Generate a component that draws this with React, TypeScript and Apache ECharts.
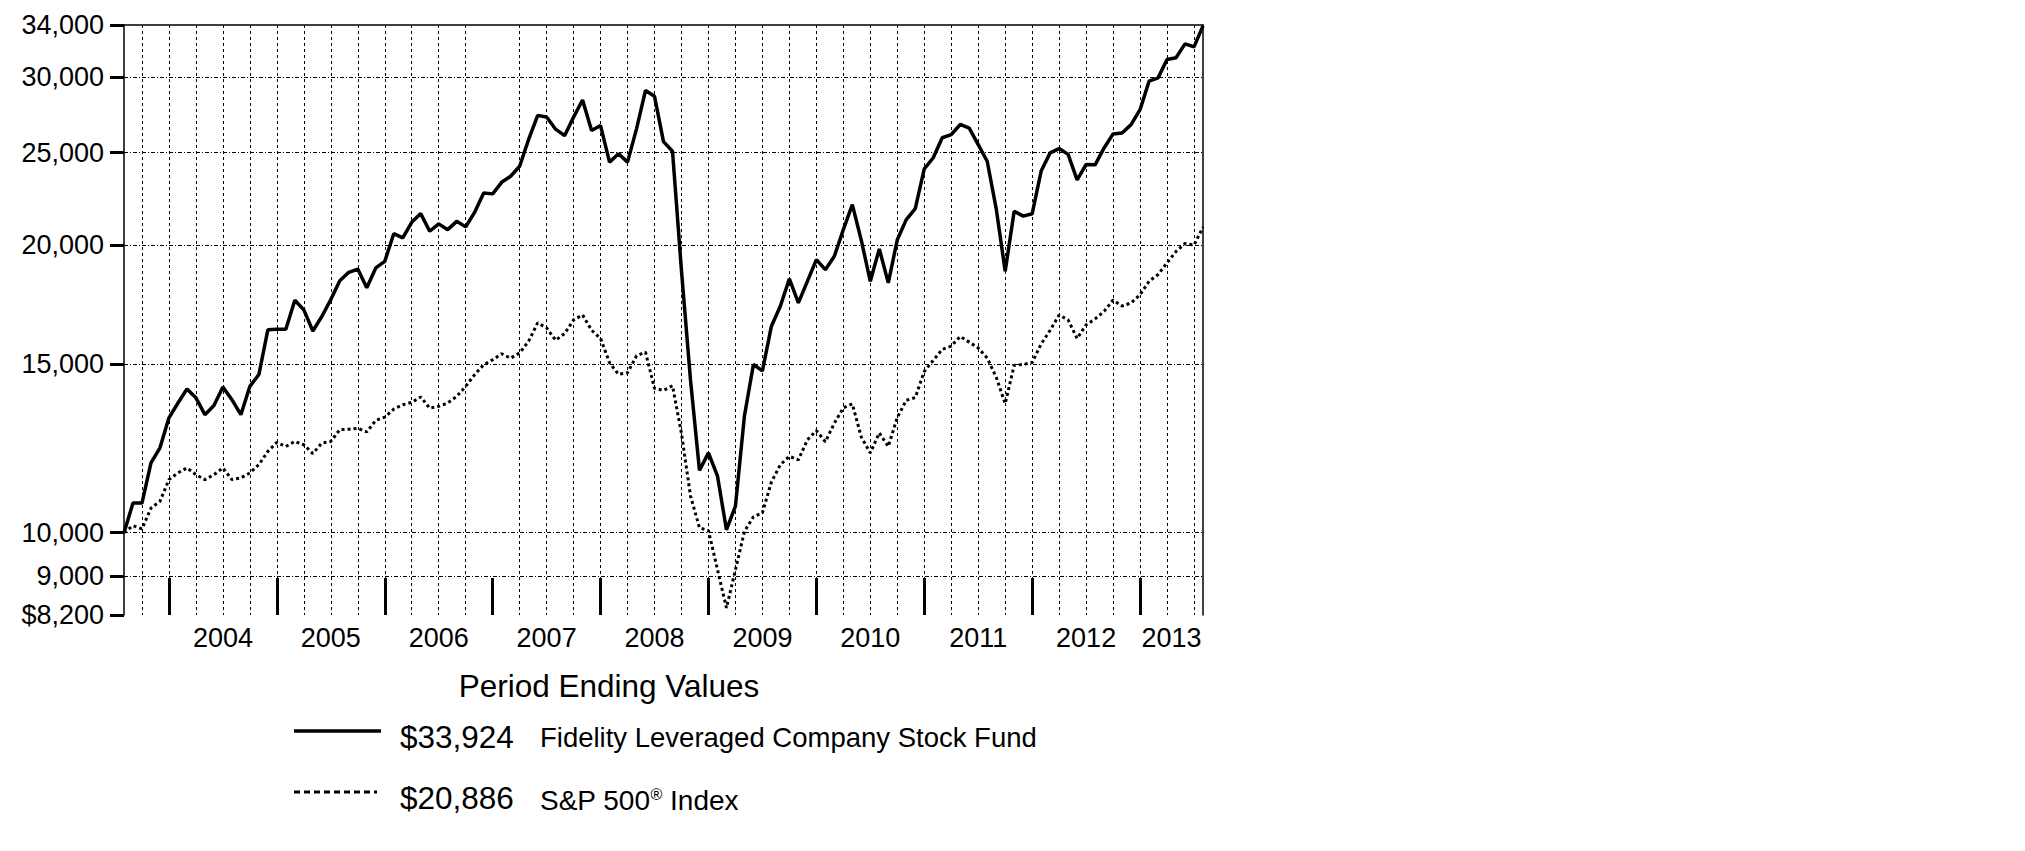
import React, { useEffect, useRef } from 'react';
import * as echarts from 'echarts';

const FONT = '"Liberation Sans", Arial, Helvetica, sans-serif';

// Monthly period ends, Jul 2003 .. Jul 2013
const MONTH_NAMES = ['Jan', 'Feb', 'Mar', 'Apr', 'May', 'Jun', 'Jul', 'Aug', 'Sep', 'Oct', 'Nov', 'Dec'];
const START_YEAR = 2003;
const START_MONTH = 6; // July
const MONTH_COUNT = 121;
const monthLabels: string[] = Array.from({ length: MONTH_COUNT }, (_, i) => {
  const m = (START_MONTH + i) % 12;
  const y = START_YEAR + Math.floor((START_MONTH + i) / 12);
  return `${MONTH_NAMES[m]} ${y}`;
});

const fundName = 'Fidelity Leveraged Company Stock Fund';
const indexName = 'S&P 500® Index';

const fundValues = [
  10000, 10740, 10740, 11830, 12270, 13190, 13670, 14140, 13840, 13290,
  13590, 14210, 13780, 13290, 14230, 14640, 16310, 16330, 16330, 17510,
  17110, 16260, 16840, 17540, 18350, 18730, 18880, 18050, 18930, 19230,
  20560, 20350, 21130, 21580, 20680, 21050, 20760, 21180, 20900, 21650,
  22680, 22630, 23270, 23610, 24190, 25800, 27330, 27240, 26450, 26040,
  27230, 28380, 26360, 26680, 24430, 24930, 24430, 26470, 29040, 28630,
  25670, 25080, 18800, 14460, 11620, 12120, 11470, 10070, 10660, 13250,
  15000, 14770, 16450, 17270, 18440, 17400, 18330, 19310, 18850, 19470,
  20760, 22050, 20230, 18330, 19820, 18260, 20260, 21270, 21840, 24040,
  24690, 25910, 26100, 26750, 26520, 25480, 24480, 21840, 18780, 21700,
  21450, 21570, 23910, 24980, 25240, 24890, 23410, 24290, 24270, 25280,
  26150, 26210, 26740, 27720, 29690, 29930, 31290, 31420, 32490, 32250,
  33924,
];

const indexValues = [
  10000, 10170, 10090, 10610, 10785, 11365, 11550, 11690, 11500, 11365,
  11500, 11690, 11365, 11410, 11550, 11780, 12165, 12430, 12310, 12460,
  12360, 12100, 12410, 12460, 12820, 12830, 12860, 12750, 13110, 13210,
  13470, 13610, 13690, 13870, 13500, 13560, 13670, 13890, 14230, 14640,
  14990, 15170, 15390, 15230, 15420, 15860, 16580, 16380, 15900, 16160,
  16700, 16900, 16290, 15970, 15060, 14650, 14700, 15320, 15450, 14160,
  14090, 14250, 12700, 10930, 10120, 10050, 9150, 8340, 9140, 10030,
  10390, 10490, 11300, 11780, 12020, 11920, 12510, 12790, 12450, 13020,
  13510, 13640, 12590, 12120, 12720, 12310, 13200, 13760, 13850, 14750,
  15150, 15560, 15680, 16050, 15830, 15610, 15230, 14550, 13650, 14970,
  15000, 15070, 15760, 16290, 16900, 16700, 15970, 16500, 16740, 17050,
  17520, 17270, 17400, 17750, 18330, 18630, 19160, 19700, 20080, 20000,
  20886,
];

const yTickValues = [8200, 9000, 10000, 15000, 20000, 25000, 30000, 34000];
const yearLabels = ['2004', '2005', '2006', '2007', '2008', '2009', '2010', '2011', '2012', '2013'];

// year boundaries: December period ends
const yearBoundaryIdx: number[] = monthLabels
  .map((m, i) => (m.startsWith('Dec') ? i : -1))
  .filter((i) => i >= 0);
// label positions: middle of each calendar year span
const yearLabelPos: number[] = yearLabels.map((_, k) => {
  const a = yearBoundaryIdx[k];
  const b = k + 1 < yearBoundaryIdx.length ? yearBoundaryIdx[k + 1] : MONTH_COUNT - 1;
  return (a + b) / 2;
});

const fmtMoney = (v: number) => '$' + Math.round(v).toLocaleString('en-US');

export default function App() {
  const ref = useRef<HTMLDivElement>(null);

  useEffect(() => {
    if (!ref.current) return;
    const chart = echarts.init(ref.current, null, { renderer: 'svg' });

    const option: any = {
      animation: false,
      backgroundColor: '#ffffff',
      textStyle: { fontFamily: FONT },
      grid: { left: 124, top: 25, width: 1079, height: 590, containLabel: false },
      xAxis: [
        {
          type: 'category',
          data: monthLabels,
          boundaryGap: false,
          position: 'top',
          axisLine: { show: true, onZero: false, lineStyle: { color: '#000', width: 1.5 } },
          axisTick: { show: false },
          axisLabel: { show: false },
          splitLine: {
            show: true,
            interval: (i: number) => i % 3 === 2 && i !== 41,
            lineStyle: { color: '#000', width: 1, type: [3, 3] },
          },
        },
        {
          type: 'value',
          min: 0,
          max: MONTH_COUNT - 1,
          position: 'bottom',
          offset: 5,
          axisLine: { show: false },
          axisTick: {
            show: true,
            inside: true,
            length: 37,
            customValues: yearBoundaryIdx,
            lineStyle: { color: '#000', width: 3 },
          },
          axisLabel: {
            show: true,
            customValues: yearLabelPos,
            formatter: (v: number) => {
              const k = yearLabelPos.findIndex((p) => Math.abs(p - v) < 0.01);
              return k >= 0 ? yearLabels[k] : '';
            },
            margin: 4,
            fontSize: 27,
            color: '#000',
            fontFamily: FONT,
          },
          splitLine: { show: false },
        },
      ],
      yAxis: [
        {
          type: 'log',
          logBase: 10,
          min: 8200,
          max: 34000,
          position: 'left',
          axisLine: { show: true, lineStyle: { color: '#000', width: 1.5 } },
          axisTick: {
            show: true,
            length: 14,
            customValues: yTickValues,
            lineStyle: { color: '#000', width: 3 },
          },
          axisLabel: {
            show: true,
            customValues: yTickValues,
            formatter: (v: number) => {
              const r = Math.round(v);
              return r === yTickValues[0] ? fmtMoney(r) : r.toLocaleString('en-US');
            },
            margin: 20,
            fontSize: 27,
            color: '#000',
            fontFamily: FONT,
          },
          splitLine: {
            show: true,
            showMinLine: false,
            showMaxLine: false,
            lineStyle: { color: '#000', width: 1, type: [4, 2, 1, 2] },
          },
        },
        {
          type: 'value',
          position: 'right',
          min: 0,
          max: 1,
          axisLine: { show: true, onZero: false, lineStyle: { color: '#000', width: 1.5 } },
          axisTick: { show: false },
          axisLabel: { show: false },
          splitLine: { show: false },
        },
      ],
      series: [
        {
          name: fundName,
          type: 'line',
          xAxisIndex: 0,
          yAxisIndex: 0,
          data: fundValues,
          symbol: 'none',
          showSymbol: false,
          lineStyle: { color: '#000', width: 3.5 },
          z: 4,
        },
        {
          name: indexName,
          type: 'line',
          xAxisIndex: 0,
          yAxisIndex: 0,
          data: indexValues,
          symbol: 'none',
          showSymbol: false,
          lineStyle: { color: '#000', width: 3, type: [3, 3] },
          z: 3,
        },
      ],
      graphic: [
        {
          type: 'text',
          x: 609,
          y: 686,
          style: {
            text: 'Period Ending Values',
            fontSize: 31.5,
            fontFamily: FONT,
            fill: '#000',
            align: 'center',
            verticalAlign: 'middle',
          },
        },
        {
          type: 'line',
          shape: { x1: 294, y1: 731, x2: 381, y2: 731 },
          style: { stroke: '#000', lineWidth: 3.5 },
        },
        {
          type: 'text',
          x: 400,
          y: 737,
          style: {
            text: fmtMoney(fundValues[fundValues.length - 1]),
            fontSize: 31.5,
            fontFamily: FONT,
            fill: '#000',
            align: 'left',
            verticalAlign: 'middle',
          },
        },
        {
          type: 'text',
          x: 540,
          y: 737,
          style: {
            text: fundName,
            fontSize: 27.5,
            fontFamily: FONT,
            fill: '#000',
            align: 'left',
            verticalAlign: 'middle',
          },
        },
        {
          type: 'line',
          shape: { x1: 294, y1: 792, x2: 377, y2: 792 },
          style: { stroke: '#000', lineWidth: 3, lineDash: [6, 4] },
        },
        {
          type: 'text',
          x: 400,
          y: 798,
          style: {
            text: fmtMoney(indexValues[indexValues.length - 1]),
            fontSize: 31.5,
            fontFamily: FONT,
            fill: '#000',
            align: 'left',
            verticalAlign: 'middle',
          },
        },
        {
          type: 'text',
          x: 540,
          y: 800,
          style: {
            text: 'S&P 500{sup|®} Index',
            fontSize: 28,
            fontFamily: FONT,
            fill: '#000',
            align: 'left',
            verticalAlign: 'middle',
            rich: {
              sup: { fontSize: 16, fontFamily: FONT, fill: '#000', verticalAlign: 'top' },
            },
          },
        },
      ],
    };

    chart.setOption(option);
    return () => chart.dispose();
  }, []);

  return (
    <div
      ref={ref}
      style={{ position: 'absolute', left: 0, top: 0, width: 2025, height: 851, background: '#fff' }}
    />
  );
}
